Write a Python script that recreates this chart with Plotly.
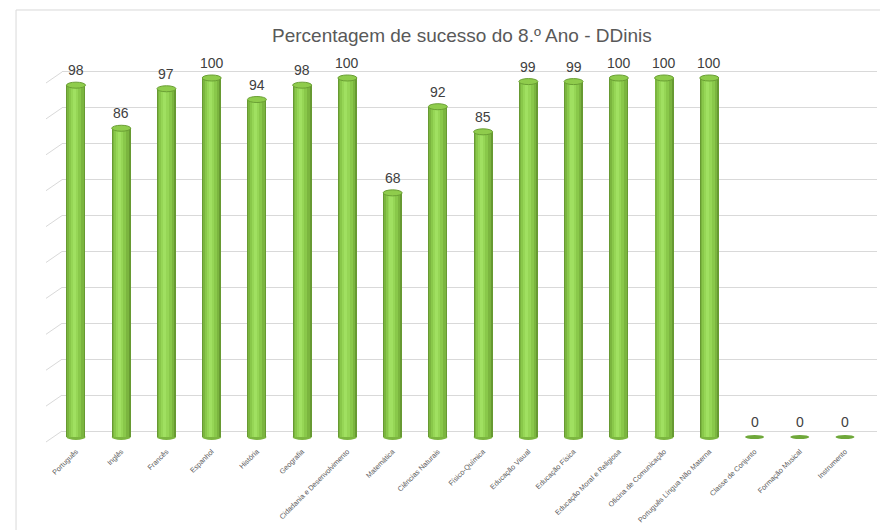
import plotly.graph_objects as go

categories = ["Português", "Inglês", "Francês", "Espanhol", "História", "Geografia",
              "Cidadania e Desenvolvimento", "Matemática", "Ciências Naturais",
              "Físico-Química", "Educação Visual", "Educação Física",
              "Educação Moral e Religiosa", "Oficina de Comunicação",
              "Português Língua Não Materna", "Classe de Conjunto",
              "Formação Musical", "Instrumento"]
values = [98, 86, 97, 100, 94, 98, 100, 68, 92, 85, 99, 99, 100, 100, 100, 0, 0, 0]
grid_values = [0, 10, 20, 30, 40, 50, 60, 70, 80, 90, 100]
title_text = "Percentagem de sucesso do 8.º Ano - DDinis"

FONT = "Liberation Sans"
xs = list(range(len(categories)))

fig = go.Figure()

# cylinder-like shading with overlaid bar layers
layers = [
    (0.42, None, "#679a32"),
    (0.36, -0.19, "#7bb53f"),
    (0.27, -0.155, "#89c84a"),
    (0.16, -0.11, "#96d656"),
    (0.07, -0.07, "#a0e061"),
]
for w, off, col in layers:
    kw = dict(width=w)
    if off is not None:
        kw["offset"] = off
    fig.add_trace(go.Bar(x=xs, y=values, marker=dict(color=col, line=dict(width=0)),
                         yaxis="y2", hoverinfo="skip", showlegend=False, **kw))

shapes = []
for i, v in enumerate(values):
    if v > 0:
        shapes.append(dict(type="circle", xref="x", yref="y2", xsizemode="pixel", ysizemode="pixel",
                           xanchor=i, yanchor=0, x0=-9.5, x1=9.5, y0=-3, y1=3,
                           fillcolor="#7cb640", line=dict(width=0), layer="below"))
        shapes.append(dict(type="circle", xref="x", yref="y2", xsizemode="pixel", ysizemode="pixel",
                           xanchor=i, yanchor=v, x0=-9.5, x1=9.5, y0=-3, y1=3,
                           fillcolor="#8fcc4c", line=dict(color="#6a9f34", width=1), layer="above"))
    else:
        shapes.append(dict(type="circle", xref="x", yref="y2", xsizemode="pixel", ysizemode="pixel",
                           xanchor=i, yanchor=v, x0=-9.5, x1=9.5, y0=-2, y1=2,
                           fillcolor="#6fa83a", line=dict(width=0), layer="above"))

# diagonal depth lines at left of each gridline
for g in grid_values:
    shapes.append(dict(type="line", xref="paper", yref="y", xsizemode="pixel", ysizemode="pixel",
                       xanchor=0, yanchor=g, x0=-16, x1=0, y0=-11, y1=0,
                       line=dict(color="#d9d9d9", width=1), layer="below"))

# outer chart border (cropped)
shapes.append(dict(type="rect", xref="paper", yref="paper", x0=-0.0564, x1=1.05, y0=-0.3, y1=1.1299,
                   line=dict(color="#d9d9d9", width=1), fillcolor="rgba(0,0,0,0)", layer="below"))

annotations = [dict(x=i, y=v, xref="x", yref="y2", text=str(v), showarrow=False,
                    yshift=15, font=dict(family=FONT, size=14, color="#404040"))
               for i, v in enumerate(values)]
annotations.append(dict(x=0.491, y=1.0, xref="paper", yref="paper", yshift=12,
                        xanchor="center", yanchor="bottom", text=title_text, showarrow=False,
                        font=dict(family=FONT, size=19, color="#595959")))

# page body has an 8px default margin, so the figure is sized/offset to compensate
fig.update_layout(
    width=880, height=522,
    margin=dict(l=54, r=11, t=52, b=85, autoexpand=False),
    paper_bgcolor="white", plot_bgcolor="white",
    barmode="overlay",
    bargap=0,
    shapes=shapes,
    annotations=annotations,
    xaxis=dict(range=[-0.309, 17.707], tickvals=xs, ticktext=categories, tickangle=-45,
               tickfont=dict(family=FONT, size=7.2, color="#595959"), automargin=False,
               showgrid=False, zeroline=False, showline=False, ticks=""),
    yaxis=dict(range=[-3.90, 103.34], tickvals=grid_values, showticklabels=False, automargin=False,
               showgrid=True, gridcolor="#d9d9d9", gridwidth=1, zeroline=False, showline=False),
    yaxis2=dict(range=[-2.23, 105.01], overlaying="y", showgrid=False, zeroline=False,
                showticklabels=False, showline=False),
    font=dict(family=FONT),
)

fig.write_html("out.html")
